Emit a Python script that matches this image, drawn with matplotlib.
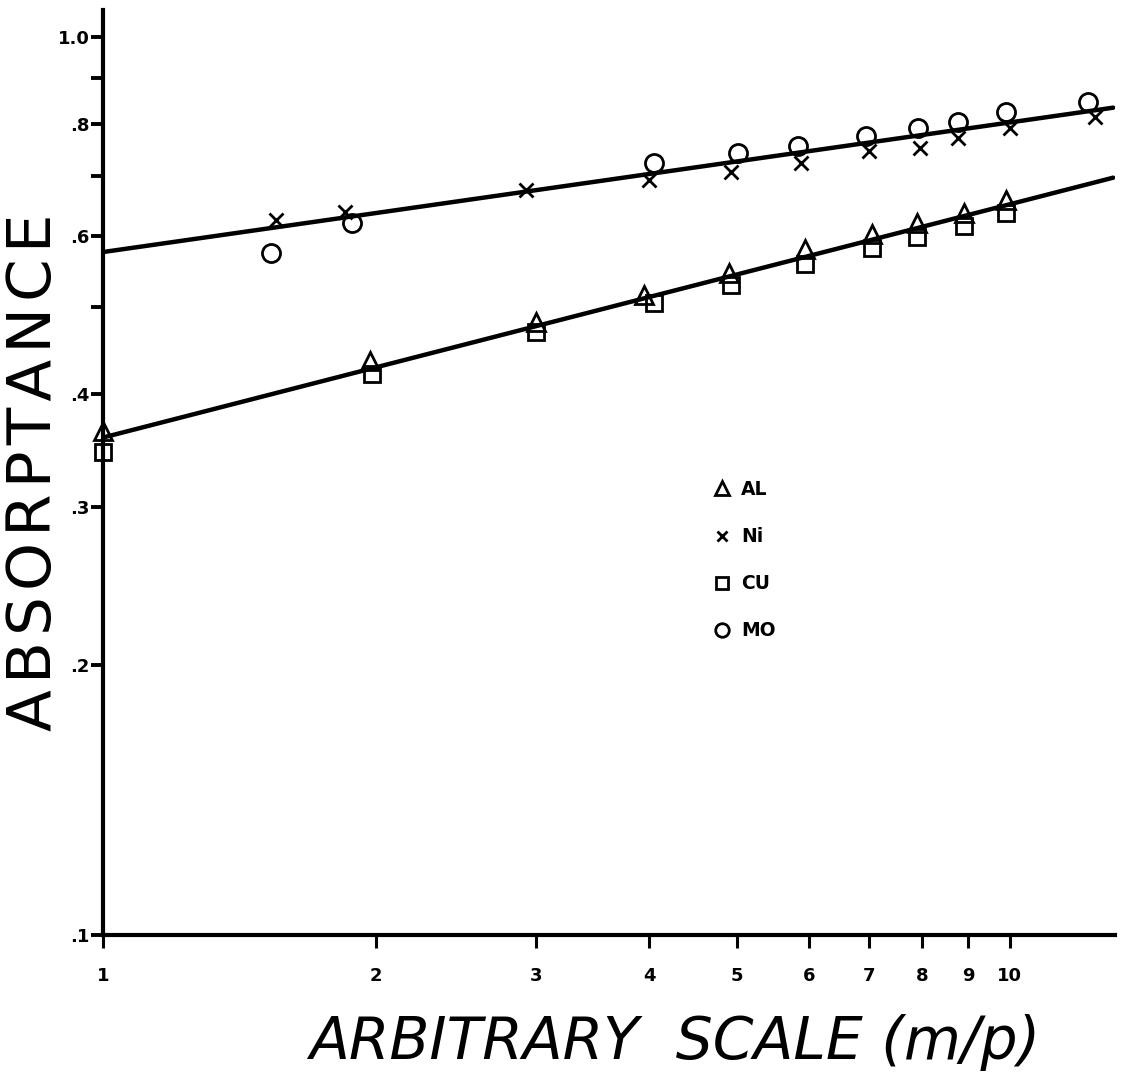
import matplotlib
matplotlib.use("Agg")
import matplotlib.pyplot as plt
from matplotlib.ticker import FixedLocator, NullLocator, NullFormatter

# ---- measured absorptance vs m/p ----
al_x = [1.0, 1.97, 3.0, 3.95, 4.9, 5.95, 7.05, 7.9, 8.9, 9.9]
al_y = [0.364, 0.436, 0.482, 0.516, 0.546, 0.580, 0.604, 0.621, 0.637, 0.659]

cu_x = [1.0, 1.98, 3.0, 4.05, 4.93, 5.95, 7.05, 7.9, 8.9, 9.9]
cu_y = [0.345, 0.421, 0.469, 0.506, 0.529, 0.558, 0.582, 0.599, 0.615, 0.637]

ni_x = [1.55, 1.85, 2.93, 4.0, 4.93, 5.89, 7.0, 7.96, 8.77, 10.0, 12.4]
ni_y = [0.626, 0.639, 0.676, 0.693, 0.708, 0.724, 0.747, 0.752, 0.772, 0.792, 0.815]

mo_x = [1.53, 1.88, 4.05, 5.02, 5.84, 6.94, 7.92, 8.77, 9.9, 12.2]
mo_y = [0.575, 0.621, 0.724, 0.743, 0.755, 0.776, 0.792, 0.804, 0.825, 0.847]

# straight-line fits (log-log), given by their end points
fit_x = [1.0, 13.0]
fit_upper = [0.576, 0.834]   # Ni / Mo
fit_lower = [0.358, 0.697]   # Al / Cu

x_ticks = [1, 2, 3, 4, 5, 6, 7, 8, 9, 10]
x_labels = ["1", "2", "3", "4", "5", "6", "7", "8", "9", "10"]
y_ticks = [0.1, 0.2, 0.3, 0.4, 0.5, 0.6, 0.7, 0.8, 0.9, 1.0]
y_labels = [".1", ".2", ".3", ".4", "", ".6", "", ".8", "", "1.0"]

fig = plt.figure(figsize=(11.27, 10.81), dpi=100)
ax = fig.add_axes([0.0914, 0.135, 0.898, 0.856])

ax.set_xscale("log")
ax.set_yscale("log")
ax.set_xlim(1.0, 13.06)
ax.set_ylim(0.1, 1.072)

lw = 3.2
ax.plot(fit_x, fit_upper, color="black", lw=lw, solid_capstyle="round", zorder=2)
ax.plot(fit_x, fit_lower, color="black", lw=lw, solid_capstyle="round", zorder=2)

mk = dict(linestyle="none", color="black", markerfacecolor="none",
          markeredgewidth=2.0, clip_on=False, zorder=3)
ax.plot(al_x, al_y, marker="^", markersize=13, label="AL", **mk)
ax.plot(ni_x, ni_y, marker="x", markersize=10, label="Ni", **mk)
ax.plot(cu_x, cu_y, marker="s", markersize=12, label="CU", **mk)
ax.plot(mo_x, mo_y, marker="o", markersize=13, label="MO", **mk)

for s in ["top", "right"]:
    ax.spines[s].set_visible(False)
for s in ["left", "bottom"]:
    ax.spines[s].set_linewidth(3.0)

ax.xaxis.set_major_locator(FixedLocator(x_ticks))
ax.xaxis.set_minor_locator(NullLocator())
ax.xaxis.set_minor_formatter(NullFormatter())
ax.set_xticklabels(x_labels)
ax.yaxis.set_major_locator(FixedLocator(y_ticks))
ax.yaxis.set_minor_locator(NullLocator())
ax.yaxis.set_minor_formatter(NullFormatter())
ax.set_yticklabels(y_labels)

ax.tick_params(axis="x", direction="out", length=9, width=2.2, pad=14,
               labelsize=13)
ax.tick_params(axis="y", direction="out", length=9, width=2.8, pad=0.5,
               labelsize=13)
for t in ax.get_xticklabels() + ax.get_yticklabels():
    t.set_fontweight("bold")

# hair spaces open up the lettering a little
ylab = "\u200a".join("ABSORPTANCE")
fig.text(35 / 1127, 1 - 472 / 1081, ylab, fontsize=44, rotation=90,
         ha="center", va="center")
ax.set_xlabel("ARBITRARY  SCALE (m/p)", fontsize=42, style="italic")
ax.xaxis.set_label_coords(0.565, -0.085)

leg = ax.legend(loc="upper left", bbox_to_anchor=(0.588, 0.51), frameon=False,
                markerscale=0.75, handlelength=0.8, handletextpad=0.6,
                labelspacing=1.5, prop={"weight": "bold", "size": 13.5})

fig.savefig("out.png", dpi=100)
